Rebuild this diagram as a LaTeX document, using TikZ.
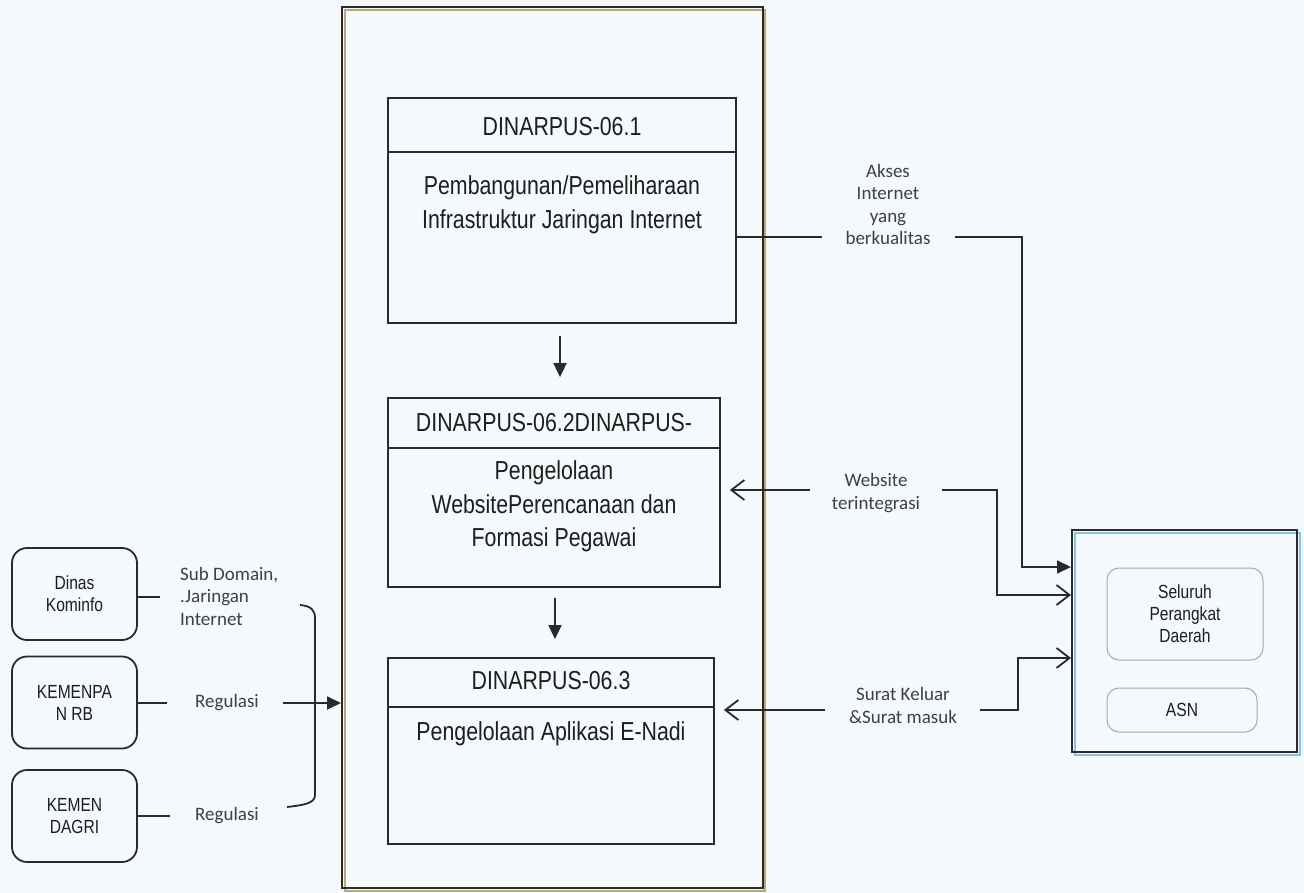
\documentclass[tikz,border=0pt]{standalone}
\usepackage{fontspec}
\setmainfont{Liberation Sans}[FakeStretch=0.82]
\newfontfamily\calibfont{Carlito}
\usetikzlibrary{arrows.meta}
\definecolor{paper}{HTML}{F4F9FC}
\definecolor{ink}{HTML}{2A2A2A}
\definecolor{txt}{HTML}{1E1E1E}
\definecolor{tan}{HTML}{B8A878}
\definecolor{skyline}{HTML}{8EC3DE}
\definecolor{softgray}{HTML}{A8A8A8}
\tikzset{
  line/.style={draw=ink, line width=1.8pt},
  fillarrow/.style={line, -{Triangle[length=14pt,width=13pt]}},
  openarrow/.style={line, -{Straight Barb[length=13pt,width=20pt,line width=1.8pt]}},
  stagebox/.style={draw=ink, line width=1.8pt, minimum width=#1, inner sep=0pt},
  boxtext/.style={font=\fontsize{26}{33.5}\selectfont, text=txt, align=center, inner sep=0pt},
  flowlabel/.style={font=\calibfont\fontsize{19}{22.5}\selectfont, text=txt!85, align=center, inner sep=0pt},
  sidebox/.style={draw=ink, line width=1.8pt, rounded corners=15pt, minimum width=125pt, minimum height=92pt,
    font=\fontsize{19}{22}\selectfont, text=txt, align=center, inner sep=0pt},
  memberbox/.style={draw=softgray, line width=1pt, rounded corners=12pt,
    font=\fontsize{19}{22}\selectfont, text=txt, align=center, inner sep=0pt},
}
\begin{document}
\begin{tikzpicture}[x=1pt,y=-1pt]
  % page
  \fill[paper] (0,0) rectangle (1304,893);
  \useasboundingbox (0,0) rectangle (1304,893);

  % outer column with its offset edge line
  \draw[tan, line width=1.2pt] (345,10) rectangle (765,891);
  \node[draw=ink, line width=2pt, minimum width=421pt, minimum height=881pt, inner sep=0pt] (outer) at (552.5,447.5) {};

  % stage 06.1
  \node[stagebox=348pt, minimum height=225pt] (box1) at (562,210.5) {};
  \draw[line] (box1.west |- 0,152) -- (box1.east |- 0,152);
  \node[boxtext] (t1) at (562,127) {DINARPUS-06.1};
  \node[boxtext] (b1) at (562,205) {Pembangunan/Pemeliharaan\\Infrastruktur Jaringan Internet};

  % stage 06.2
  \node[stagebox=332pt, minimum height=189pt] (box2) at (554,492.5) {};
  \draw[line] (box2.west |- 0,448) -- (box2.east |- 0,448);
  \node[boxtext] (t2) at (554,423) {DINARPUS-06.2DINARPUS-};
  \node[boxtext] (b2) at (554,506.5) {Pengelolaan\\WebsitePerencanaan dan\\Formasi Pegawai};

  % stage 06.3
  \node[stagebox=326pt, minimum height=186pt] (box3) at (551,751) {};
  \draw[line] (box3.west |- 0,707) -- (box3.east |- 0,707);
  \node[boxtext] (t3) at (551,681) {DINARPUS-06.3};
  \node[boxtext] (b3) at (551,734) {Pengelolaan Aplikasi E-Nadi};

  % flow between stages
  \draw[fillarrow] ([yshift=-12pt]box1.south -| 560,0) -- ([yshift=20pt]box2.north -| 560,0);
  \draw[fillarrow] ([yshift=-10pt]box2.south -| 555,0) -- ([yshift=18pt]box3.north -| 555,0);

  % receiving side
  \draw[skyline, line width=1.5pt] (1075,533) rectangle (1300,755);
  \node[draw=ink, line width=2pt, minimum width=225pt, minimum height=222pt, inner sep=0pt] (pd) at (1184.5,641) {};
  \node[memberbox, minimum width=156pt, minimum height=92pt] (seluruh) at (1185,614) {Seluruh\\Perangkat\\Daerah};
  \node[memberbox, minimum width=150pt, minimum height=44pt] (asn) at (1182,710) {ASN};

  % outputs to the right
  \node[flowlabel] (akses) at (888,204.5) {Akses\\Internet\\yang\\berkualitas};
  \coordinate (aksesL) at (822,237);
  \coordinate (aksesR) at (955,237);
  \coordinate (aksesTurn) at (1022,567);
  \draw[line] (box1.east |- aksesL) -- (aksesL);
  \draw[fillarrow] (aksesR) -| (aksesTurn) -- (aksesTurn -| pd.west);

  \node[flowlabel] (web) at (876,493) {Website\\terintegrasi};
  \coordinate (webL) at (810,490);
  \coordinate (webR) at (942,490);
  \coordinate (webTurn) at (997,595);
  \draw[openarrow, shorten >=-1pt] (webL) -- ([xshift=10pt]box2.east |- webL);
  \draw[openarrow] (webR) -| (webTurn) -- (webTurn -| pd.west);

  \node[flowlabel] (surat) at (903,705.5) {Surat Keluar\\\&Surat masuk};
  \coordinate (suratL) at (825,710);
  \coordinate (suratR) at (980,710);
  \coordinate (suratTurn) at (1018,658);
  \draw[openarrow] (suratL) -- ([xshift=9pt]box3.east |- suratL);
  \draw[openarrow] (suratR) -| (suratTurn) -- (suratTurn -| pd.west);

  % inputs from the left
  \node[sidebox] (kominfo) at (74.5,594) {Dinas\\Kominfo};
  \node[sidebox] (kemenpan) at (74.5,702.5) {KEMENPA\\N RB};
  \node[sidebox] (kemendagri) at (74.5,816) {KEMEN\\DAGRI};

  \node[flowlabel, align=left, anchor=west] (subdomain) at (180,596) {Sub Domain,\\.Jaringan\\Internet};
  \node[flowlabel] (reg1) at (227,703) {Regulasi};
  \node[flowlabel] (reg2) at (227,816) {Regulasi};

  \coordinate (komEnd) at (160,597);
  \coordinate (panEnd) at (167,703);
  \coordinate (dagEnd) at (170,816);
  \draw[line] (kominfo.east |- komEnd) -- (komEnd);
  \draw[line] (kemenpan.east |- panEnd) -- (panEnd);
  \draw[line] (kemendagri.east |- dagEnd) -- (dagEnd);

  % bracket gathering the inputs
  \draw[line] (300,605) .. controls (311,606) and (315,610) .. (315,618)
    -- (315,795) .. controls (315,803) and (305,805) .. (287,807);
  \coordinate (regStart) at (283,703);
  \draw[fillarrow] (regStart) -- (outer.west |- regStart);
\end{tikzpicture}
\end{document}
